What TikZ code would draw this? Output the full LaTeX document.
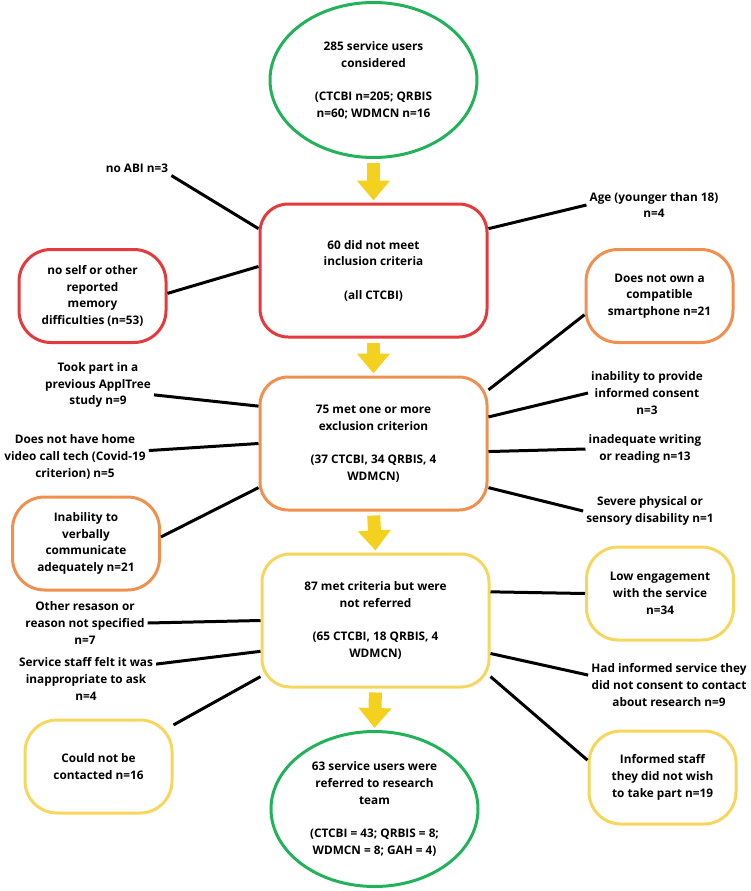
\documentclass[tikz,border=0pt]{standalone}
\usepackage{fontspec}
\setmainfont{Open Sans}
\usepackage{tikz}
\usetikzlibrary{arrows.meta}
\usetikzlibrary{shapes.geometric}
\usepackage{xcolor}
\definecolor{flowgreen}{HTML}{22B35A}
\definecolor{flowred}{HTML}{E53A3C}
\definecolor{floworange}{HTML}{F0904E}
\definecolor{flowyellow}{HTML}{F7D65E}
\definecolor{arrowyellow}{HTML}{F5D11F}

\tikzset{
  mainbox/.style={draw, line width=3pt, rounded corners=28pt, minimum width=227pt, minimum height=133pt, align=center, inner sep=0pt},
  sidebox/.style={draw, line width=3pt, rounded corners=32pt, minimum width=147pt, minimum height=93pt, align=center, inner sep=0pt},
  endpoint/.style={draw=flowgreen, line width=3pt, ellipse, minimum width=207pt, minimum height=155pt, align=center, inner sep=0pt},
  crit/.style={align=center, inner sep=3pt},
  link/.style={line width=3pt},
  flow/.style={arrowyellow, line width=13pt, -{Triangle[length=20pt,width=32pt]}, shorten <=4pt, shorten >=2pt}
}

\begin{document}
\begin{tikzpicture}[x=1pt, y=-1pt, font=\fontsize{11.8}{16.7}\selectfont\bfseries]
  \useasboundingbox (0,0) rectangle (750,891);

  % Main stages
  \node[endpoint] (start) at (373.5,80) {285 service users\\considered\\[16.7pt](CTCBI n=205; QRBIS\\n=60; WDMCN n=16};
  \node[mainbox, draw=flowred] (incl) at (373.5,270.5) {60 did not meet\\inclusion criteria\\[16.7pt](all CTCBI)};
  \node[mainbox, draw=floworange] (excl) at (373.5,443.5) {75 met one or more\\exclusion criterion\\[16.7pt](37 CTCBI, 34 QRBIS, 4\\WDMCN)};
  \node[mainbox, draw=flowyellow] (notref) at (375.5,620.5) {87 met criteria but were\\not referred\\[16.7pt](65 CTCBI, 18 QRBIS, 4\\WDMCN)};
  \node[endpoint] (referred) at (374.5,809) {63 service users were\\referred to research\\team\\[16.7pt](CTCBI = 43; QRBIS = 8;\\WDMCN = 8; GAH = 4)};

  % Flow arrows
  \draw[flow] (start.south) -- (incl.north);
  \draw[flow] (incl.south) -- (excl.north);
  \draw[flow] (excl.south) -- (notref.north);
  \draw[flow] (notref.south) -- (referred.north);

  % Inclusion criteria
  \node[crit] (noabi) at (137,168) {no ABI n=3};
  \node[sidebox, draw=flowred] (memory) at (92.5,296) {no self or other\\reported\\memory\\difficulties (n=53)};
  \node[crit] (age) at (654,205) {Age (younger than 18)\\n=4};
  \draw[link] (noabi.south east) -- (incl.160);
  \draw[link] (memory.2) -- (incl.178);
  \draw[link] (age.west) -- (incl.20);

  % Exclusion criteria
  \node[crit] (applt) at (98,385) {Took part in a\\previous ApplTree\\study n=9};
  \node[crit] (homevid) at (75,457) {Does not have home\\video call tech (Covid-19\\criterion) n=5};
  \node[sidebox, draw=floworange] (verbal) at (86,543.5) {Inability to\\verbally\\communicate\\adequately n=21};
  \node[sidebox, draw=floworange] (phone) at (659.5,296) {Does not own a\\compatible\\smartphone n=21};
  \node[crit] (consent) at (647,393) {inability to provide\\informed consent\\n=3};
  \node[crit] (literacy) at (645,449) {inadequate writing\\or reading n=13};
  \node[crit] (disab) at (650,511) {Severe physical or\\sensory disability n=1};
  \draw[link] (applt.-10) -- (excl.162);
  \draw[link] (homevid.5) -- (excl.180);
  \draw[link] (verbal.5) -- (excl.201);
  \draw[link] (phone.194) -- (excl.25);
  \draw[link] (consent.west) -- (excl.13);
  \draw[link] (literacy.west) -- (excl.-4);
  \draw[link] (disab.west) -- (excl.-21);

  % Not referred
  \node[crit] (other) at (85,623) {Other resason or\\reason not specified\\n=7};
  \node[crit] (staff) at (86,679) {Service staff felt it was\\inappropriate to ask\\n=4};
  \node[sidebox, draw=flowyellow] (contact) at (98.5,766.5) {Could not be\\contacted n=16};
  \node[sidebox, draw=flowyellow] (engage) at (660,593.5) {Low engagement\\with the service\\n=34};
  \node[crit] (declined) at (669,685) {Had informed service they\\did not consent to contact\\about research n=9};
  \node[sidebox, draw=flowyellow] (nowish) at (662.5,777.5) {Informed staff\\they did not wish\\to take part n=19};
  \draw[link] (other.east) -- (notref.180);
  \draw[link] (staff.12) -- (notref.195);
  \draw[link] (contact.29) -- (notref.206);
  \draw[link] (engage.west) -- (notref.14);
  \draw[link] (declined.173) -- (notref.344);
  \draw[link] (nowish.167) -- (notref.334);
\end{tikzpicture}
\end{document}
